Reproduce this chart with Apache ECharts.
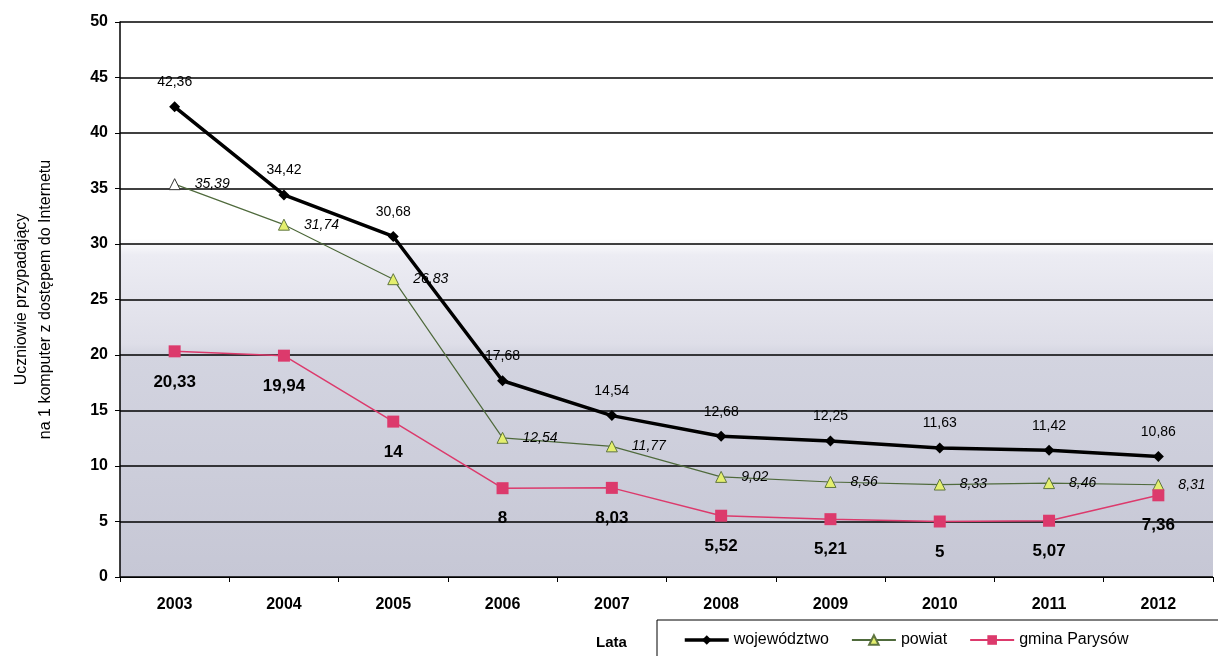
<!DOCTYPE html>
<html>
<head>
<meta charset="utf-8">
<script src="https://cdn.jsdelivr.net/npm/echarts@6/dist/echarts.min.js"></script>
<style>
  html, body { margin: 0; padding: 0; background: #fff; }
  #chart { width: 1218px; height: 656px; }
</style>
</head>
<body>
<div id="chart"></div>
<script>
const years = ['2003', '2004', '2005', '2006', '2007', '2008', '2009', '2010', '2011', '2012'];
const wojewodztwo = [42.36, 34.42, 30.68, 17.68, 14.54, 12.68, 12.25, 11.63, 11.42, 10.86];
const powiat = [35.39, 31.74, 26.83, 12.54, 11.77, 9.02, 8.56, 8.33, 8.46, 8.31];
const gmina = [20.33, 19.94, 14, 8, 8.03, 5.52, 5.21, 5, 5.07, 7.36];

const chart = echarts.init(document.getElementById('chart'));
const font = 'Liberation Sans, Arial, sans-serif';
const fmt = (p) => String(p.value).replace('.', ',');

const option = {
  backgroundColor: '#fff',
  textStyle: { fontFamily: font, color: '#000' },
  grid: {
    left: 120, right: 5, top: 22, bottom: 79,
    outerBoundsMode: 'none',
    containLabel: false,
    show: true,
    borderWidth: 0,
    backgroundColor: {
      type: 'linear', x: 0, y: 0, x2: 0, y2: 1,
      colorStops: [
        { offset: 0, color: '#ffffff' },
        { offset: 0.39, color: '#ffffff' },
        { offset: 0.42, color: '#ececf3' },
        { offset: 0.58, color: '#dedee8' },
        { offset: 0.6, color: '#d3d4e0' },
        { offset: 1, color: '#c6c7d5' }
      ]
    }
  },
  legend: {
    left: 657, top: 620,
    width: 800,
    padding: [12, 120, 20, 26],
    itemGap: 22,
    itemWidth: 44, itemHeight: 12,
    borderColor: '#000', borderWidth: 1,
    textStyle: { fontSize: 16, color: '#000', fontFamily: font },
    data: [
      { name: 'województwo', lineStyle: { width: 3.5 } },
      { name: 'powiat' },
      { name: 'gmina Parysów' }
    ]
  },
  xAxis: {
    type: 'category',
    data: years,
    boundaryGap: true,
    name: 'Lata',
    nameLocation: 'middle',
    nameGap: 58,
    nameTextStyle: { fontWeight: 'bold', fontSize: 15, color: '#000', padding: [0, 110, 0, 0] },
    axisLine: { lineStyle: { color: '#000', width: 1 } },
    axisTick: { show: true, alignWithLabel: false, lineStyle: { color: '#000' } },
    axisLabel: { fontWeight: 'bold', fontSize: 16, color: '#000', margin: 20 }
  },
  yAxis: {
    type: 'value',
    min: 0, max: 50, interval: 5,
    name: 'Uczniowie przypadający\nna 1 komputer z dostępem do Internetu',
    nameLocation: 'middle',
    nameGap: 62,
    nameTextStyle: { fontSize: 16, color: '#000', lineHeight: 24 },
    axisLine: { show: true, lineStyle: { color: '#000', width: 1.5 } },
    axisTick: { show: true, lineStyle: { color: '#000' } },
    axisLabel: { fontWeight: 'bold', fontSize: 16, color: '#000', margin: 12 },
    splitLine: { lineStyle: { color: '#000', width: 1.5 } }
  },
  series: [
    {
      name: 'województwo',
      type: 'line',
      data: wojewodztwo,
      symbol: 'diamond',
      symbolSize: 11,
      itemStyle: { color: '#000' },
      lineStyle: { color: '#000', width: 3.5 },
      label: {
        show: true, position: 'top', distance: 12,
        formatter: fmt, fontSize: 14, color: '#000'
      },
      z: 3
    },
    {
      name: 'powiat',
      type: 'line',
      data: powiat.map((v, i) => i === 0
        ? { value: v, itemStyle: { color: '#fff', borderColor: '#333' } }
        : v),
      symbol: 'triangle',
      symbolSize: 11,
      itemStyle: { color: '#e4ef6e', borderColor: '#5f7540', borderWidth: 1 },
      lineStyle: { color: '#4f6a3c', width: 1.2 },
      label: {
        show: true, position: 'right', distance: 14,
        formatter: fmt, fontSize: 14, fontStyle: 'italic', color: '#000'
      },
      z: 2
    },
    {
      name: 'gmina Parysów',
      type: 'line',
      data: gmina,
      symbol: 'rect',
      symbolSize: 12,
      itemStyle: { color: '#dc3a6c' },
      lineStyle: { color: '#dc3a6c', width: 1.5 },
      label: {
        show: true, position: 'bottom', distance: 16,
        formatter: fmt, fontSize: 17, fontWeight: 'bold', color: '#000'
      },
      z: 2
    }
  ]
};

chart.setOption(option);
</script>
</body>
</html>
